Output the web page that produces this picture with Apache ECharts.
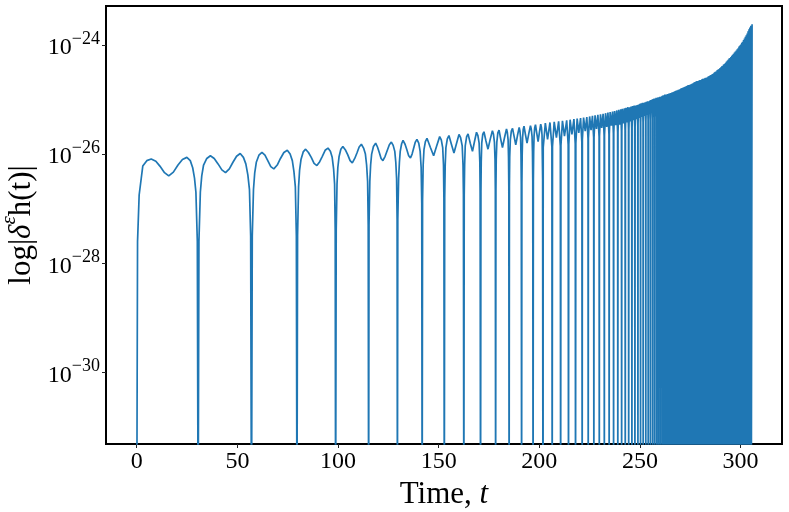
<!DOCTYPE html>
<html><head><meta charset="utf-8">
<script src="https://cdn.jsdelivr.net/npm/echarts@6/dist/echarts.min.js"></script>
<style>html,body{margin:0;padding:0;background:#fff}#c{width:789px;height:512px}</style>
</head><body><div id="c"></div>
<script>
// log10 |delta h(t)|; -33 marks a zero crossing (below the visible range)
const earlyWave = [
[0,-33],[0.4,-27.6],[1.2,-26.75],[3.0,-26.22],[5.0,-26.12],[7.2,-26.09],[9.5,-26.13],[11.5,-26.22],[13.8,-26.34],[15.9,-26.40],[18.2,-26.33],[20.5,-26.20],[22.7,-26.10],[24.9,-26.06],[26.6,-26.12],[27.8,-26.25],[28.7,-26.44],[29.4,-26.70],[30.1,-27.6],[30.5,-33],
[30.9,-27.6],[31.6,-26.7],[32.3,-26.4],[33.2,-26.2],[34.8,-26.08],[36.6,-26.03],[38.5,-26.08],[40.4,-26.18],[42.3,-26.29],[44.1,-26.34],[46.0,-26.27],[47.8,-26.15],[49.6,-26.04],[51.4,-25.99],[53.0,-26.06],[54.2,-26.18],[55.2,-26.38],[56.0,-26.65],[56.6,-27.5],[57.0,-33],
[57.4,-27.5],[58.0,-26.65],[58.6,-26.35],[59.4,-26.15],[60.7,-26.02],[62.2,-25.97],[63.7,-26.02],[65.1,-26.12],[66.6,-26.23],[68.1,-26.27],[69.8,-26.20],[71.4,-26.08],[73.1,-25.97],[74.8,-25.93],[76.2,-26.00],[77.3,-26.12],[78.1,-26.32],[78.8,-26.6],[79.3,-27.5],[79.6,-33],
[79.9,-27.5],[80.4,-26.6],[80.9,-26.3],[81.6,-26.1],[82.7,-25.96],[83.9,-25.91],[85.3,-25.97],[86.7,-26.06],[88.1,-26.17],[89.5,-26.21],[90.9,-26.14],[92.2,-26.04],[93.6,-25.93],[95.0,-25.89],[96.2,-25.95],[97.1,-26.06],[97.8,-26.27],[98.3,-26.55],[98.6,-27.4],[98.8,-33],
[99.1,-27.4],[99.5,-26.55],[99.9,-26.25],[100.5,-26.05],[101.4,-25.91],[102.4,-25.86],[103.6,-25.92],[104.8,-26.01],[106.0,-26.12],[107.1,-26.16],[108.3,-26.08],[109.4,-25.98],[110.5,-25.87],[111.6,-25.82],[112.7,-25.89],[113.6,-26.0],[114.2,-26.2],[114.7,-26.5],[115.0,-27.3],[115.2,-33],
[115.4,-27.3],[115.8,-26.5],[116.2,-26.2],[116.7,-26.0],[117.6,-25.86],[118.7,-25.80],[119.6,-25.87],[120.5,-25.97],[121.4,-26.08],[122.3,-26.12],[123.4,-26.04],[124.4,-25.94],[125.5,-25.83],[126.5,-25.78],[127.4,-25.84],[128.2,-25.95],[128.7,-26.15],[129.1,-26.45],[129.35,-27.2],[129.5,-33],
[129.7,-27.2],[130.1,-26.45],[130.5,-26.15],[130.9,-25.95],[131.6,-25.81],[132.3,-25.75],[133.3,-25.82],[134.2,-25.92],[135.1,-26.03],[136.0,-26.07],[136.8,-26.00],[137.6,-25.89],[138.4,-25.78],[139.2,-25.73],[140.1,-25.80],[140.8,-25.95],[141.3,-26.25],[141.6,-26.9],[141.8,-33],
[142.0,-26.85],[142.3,-26.2],[142.7,-25.92],[143.4,-25.77],[144.2,-25.71],[145.9,-25.88],[147.5,-26.03],[149.0,-25.85],[150.5,-25.68],[151.3,-25.74],[152.0,-25.88],[152.4,-26.2],[152.6,-26.8],[152.8,-33],
[153.0,-26.8],[153.25,-26.2],[153.6,-25.88],[154.3,-25.72],[155.1,-25.66],[156.4,-25.83],[157.6,-25.98],[158.9,-25.80],[160.1,-25.64],[160.9,-25.70],[161.7,-25.85],[162.1,-26.2],[162.3,-26.75],[162.5,-33],
[162.7,-26.75],[162.9,-26.2],[163.2,-25.85],[163.9,-25.68],[164.6,-25.63],[165.7,-25.80],[166.8,-25.95],[167.8,-25.77],[168.8,-25.60],[169.5,-25.66],[170.1,-25.8],[170.45,-26.15],[170.6,-26.7],[170.8,-33],
[171.0,-26.7],[171.15,-26.15],[171.4,-25.8],[171.9,-25.64],[172.5,-25.59],[173.5,-25.76],[174.5,-25.91],[175.6,-25.73],[176.7,-25.57],[177.2,-25.63],[177.7,-25.78],[178.0,-26.1],[178.15,-26.65],[178.3,-33],
[178.45,-26.65],[178.6,-26.1],[178.9,-25.78],[179.4,-25.61],[180.0,-25.56],[180.85,-25.73],[181.7,-25.88],[182.7,-25.70],[183.7,-25.54],[184.1,-25.60],[184.5,-25.74],[184.7,-26.05],[184.85,-26.6],[185.0,-33],
[185.15,-26.6],[185.3,-26.05],[185.6,-25.74],[186.1,-25.58],[186.7,-25.53],[187.5,-25.68],[188.3,-25.83],[189.15,-25.66],[190.0,-25.51],[190.35,-25.57],[190.7,-25.7],[190.9,-26.0],[191.05,-26.55],[191.2,-33],
[191.35,-26.55],[191.5,-26.0],[191.7,-25.7],[192.0,-25.55],[192.4,-25.49],[193.15,-25.65],[193.9,-25.80],[194.75,-25.63],[195.6,-25.48],[196.0,-25.54],[196.4,-25.68],[196.6,-25.95],[196.75,-26.5],[196.9,-33],
[197.05,-26.5],[197.2,-25.95],[197.4,-25.67],[197.7,-25.52],[198.1,-25.46],[198.75,-25.62],[199.4,-25.77],[200.05,-25.60],[200.7,-25.45],[201.05,-25.51],[201.35,-25.65],[201.65,-26.45],[201.8,-33]
];
const lateWave = [
[201.8,-33],
[201.95,-25.88],[203.0,-25.43],[204.1,-25.73],[205.3,-25.42],[206.25,-25.87],[206.4,-33],
[206.55,-25.86],[207.4,-25.41],[208.5,-25.70],[209.6,-25.40],[210.45,-25.85],[210.6,-33],
[210.75,-25.84],[211.5,-25.39],[212.5,-25.67],[213.6,-25.38],[214.35,-25.83],[214.5,-33],
[214.65,-25.82],[215.3,-25.37],[216.2,-25.64],[217.2,-25.36],[217.85,-25.81],[218.0,-33],
[218.15,-25.80],[218.8,-25.35],[219.6,-25.61],[220.5,-25.34],[221.15,-25.79],[221.3,-33],
[221.4,-25.73],[222.0,-25.33],[222.8,-25.58],[223.6,-25.32],[224.2,-25.72],[224.3,-33],
[224.4,-25.71],[225.0,-25.31],[225.7,-25.56],[226.4,-25.30],[227.0,-25.70],[227.1,-33],
[227.2,-25.69],[227.7,-25.29],[228.4,-25.54],[229.1,-25.28],[229.7,-25.68],[229.8,-33],
[229.9,-25.67],[230.4,-25.27],[231.0,-25.52],[231.7,-25.26],[232.2,-25.66],[232.3,-33],
[232.4,-25.65],[232.9,-25.25],[233.5,-25.50],[234.1,-25.24],[234.6,-25.64],[234.7,-33],
[234.8,-25.63],[235.2,-25.23],[235.8,-25.48],[236.4,-25.22],[236.8,-25.62],[236.9,-33],
[237.0,-25.61],[237.4,-25.21],[237.9,-25.47],[238.5,-25.20],[238.9,-25.60],[239.0,-33],
[239.1,-25.59],[239.45,-25.19],[239.95,-25.46],[240.45,-25.18],[240.8,-25.58],[240.9,-33],
[241.0,-25.57],[241.3,-25.17],[241.8,-25.44],[242.3,-25.16],[242.6,-25.56],[242.7,-33],
[242.8,-25.55],[243.1,-25.15],[243.55,-25.42],[244.0,-25.14],[244.3,-25.54],[244.4,-33],
[244.5,-25.54],[244.8,-25.14],[245.2,-25.40],[245.6,-25.13],[245.9,-25.53],[246.0,-33],
[246.1,-25.52],[246.35,-25.12],[246.75,-25.38],[247.15,-25.11],[247.4,-25.51],[247.5,-33],
[247.6,-25.51],[247.85,-25.11],[248.25,-25.36],[248.65,-25.10],[248.9,-25.50],[249.0,-33],
[249.06,-25.44],[249.3,-25.09],[249.65,-25.34],[250.0,-25.08],[250.24,-25.43],[250.3,-33],
[250.36,-25.42],[250.6,-25.07],[250.95,-25.32],[251.3,-25.06],[251.54,-25.41],[251.6,-33],
[251.66,-25.41],[251.9,-25.06],[252.25,-25.30],[252.6,-25.05],[252.84,-25.40],[252.9,-33],
[252.96,-25.39],[253.2,-25.04],[253.5,-25.28],[253.8,-25.03],[254.04,-25.38],[254.1,-33],
[254.16,-25.38],[254.35,-25.03],[254.65,-25.26],[254.95,-25.02],[255.14,-25.37],[255.2,-33],
[255.26,-25.36],[255.45,-25.01],[255.75,-25.24],[256.05,-25.00],[256.24,-25.35],[256.3,-33],
[256.36,-25.34],[256.55,-24.99],[256.8,-25.22],[257.05,-24.98],[257.24,-25.33],[257.3,-33],
[257.36,-25.33],[257.55,-24.98],[257.8,-25.20],[258.05,-24.97],[258.24,-25.32],[258.3,-33],
[258.36,-25.32],[258.5,-24.97],[258.75,-25.18],[259.0,-24.96],[259.14,-25.31],[259.2,-33],
[259.26,-25.31],[259.4,-24.96],[259.65,-25.16],[259.9,-24.95],[260.04,-25.30],[260.1,-33],
[260.16,-25.30],[260.3,-24.95],[260.55,-25.14],[260.8,-24.94],[260.94,-25.29],[261.0,-33],
[261.06,-25.28],[261.2,-24.93],[261.4,-25.12],[261.6,-24.92],[261.74,-25.27],[261.8,-33],
[261.86,-25.27],[262.0,-24.92],[262.2,-25.10],[262.4,-24.91],[262.54,-25.26],[262.6,-33]
];
const chirpTail = [
[262.98,-24.91],[263.35,-33],[263.72,-24.90],[264.1,-33],[264.45,-24.89],[264.8,-33],
[265.15,-24.88],[265.5,-33],[265.85,-24.87],[266.2,-33],[266.52,-24.86],[266.85,-33],
[267.18,-24.85],[267.5,-33],[267.82,-24.84],[268.15,-33],[268.48,-24.83],[268.8,-33],
[269.1,-24.82],[269.4,-33],[269.7,-24.81],[270.0,-33],[270.3,-24.80],[270.6,-33],
[270.9,-24.79],[271.2,-33],[271.5,-24.78],[271.8,-33],[272.08,-24.77],[272.35,-33],
[272.62,-24.76],[272.9,-33],[273.18,-24.75],[273.45,-33],[273.72,-24.74],[274.0,-33],
[274.28,-24.735],[274.55,-33],[274.82,-24.73],[275.1,-33],[275.35,-24.72],[275.6,-33],
[275.85,-24.71],[276.1,-33],[276.35,-24.70],[276.6,-33],[276.85,-24.69],[277.1,-33],
[277.35,-24.68],[277.6,-33],[277.85,-24.67],[278.1,-33],[278.35,-24.66],[278.6,-33],
[278.85,-24.66],[279.1,-33],[279.35,-24.65],[279.6,-33],[279.85,-24.64],[280.1,-33],
[280.32,-24.64],[280.55,-33],[280.78,-24.63],[281.0,-33],[281.22,-24.62],[281.45,-33],
[281.68,-24.62],[281.9,-33],[282.12,-24.61],[282.35,-33],[282.58,-24.60],[282.8,-33],
[283.02,-24.60],[283.25,-33],[283.48,-24.59],[283.7,-33],[283.92,-24.58],[284.15,-33],
[284.38,-24.57],[284.6,-33],[284.82,-24.56],[285.05,-33],[285.28,-24.55],[285.5,-33],
[285.72,-24.54],[285.95,-33],[286.18,-24.53],[286.4,-33],[286.62,-24.52],[286.85,-33],
[287.08,-24.50],[287.3,-33],[287.52,-24.49],[287.75,-33],[287.98,-24.48],[288.2,-33],
[288.42,-24.46],[288.65,-33],[288.88,-24.45],[289.1,-33],[289.32,-24.44],[289.55,-33],
[289.78,-24.42],[290.0,-33],[290.22,-24.41],[290.45,-33],[290.68,-24.39],[290.9,-33],
[291.12,-24.38],[291.35,-33],[291.58,-24.36],[291.8,-33],[292.02,-24.35],[292.25,-33],
[292.48,-24.33],[292.7,-33],[292.92,-24.31],[293.15,-33],[293.38,-24.29],[293.6,-33],
[293.82,-24.27],[294.05,-33],[294.28,-24.25],[294.5,-33],[294.72,-24.24],[294.95,-33],
[295.18,-24.22],[295.4,-33],[295.62,-24.20],[295.85,-33],[296.08,-24.18],[296.3,-33],
[296.52,-24.16],[296.75,-33],[296.98,-24.14],[297.2,-33],[297.42,-24.12],[297.65,-33],
[297.88,-24.10],[298.1,-33],[298.32,-24.08],[298.55,-33],[298.78,-24.06],[299.0,-33],
[299.22,-24.03],[299.45,-33],[299.68,-24.01],[299.9,-33],[300.12,-23.99],[300.35,-33],
[300.58,-23.96],[300.8,-33],[301.02,-23.94],[301.25,-33],[301.48,-23.91],[301.7,-33],
[301.92,-23.88],[302.15,-33],[302.38,-23.85],[302.6,-33],[302.82,-23.82],[303.05,-33],
[303.28,-23.79],[303.5,-33],[303.72,-23.75],[303.95,-33],[304.18,-23.71],[304.4,-33],
[304.62,-23.68],[304.85,-33],[305.08,-23.65],[305.3,-33],[305.7,-23.62]
];
const xTickValues = [0, 50, 100, 150, 200, 250, 300];
const yTickExponents = [-30, -28, -26, -24];

const FONT = 'Liberation Serif';
const chart = echarts.init(document.getElementById('c'), null, {renderer: 'canvas'});
const lineColor = '#1f77b4';
chart.setOption({
  animation: false,
  backgroundColor: '#fff',
  grid: {left: 106, right: 7, top: 6, bottom: 68, show: true, borderColor: '#000', borderWidth: 2,
         backgroundColor: 'transparent', containLabel: false, outerBoundsMode: 'none'},
  xAxis: {
    type: 'value', min: -15.27, max: 320.57,
    axisLine: {show: false, onZero: false}, splitLine: {show: false},
    axisTick: {show: true, customValues: xTickValues, length: 4, lineStyle: {color: '#222', width: 1}},
    axisLabel: {customValues: xTickValues, fontFamily: FONT, fontSize: 24, color: '#000', margin: 6},
    name: '{r|Time, }{i|t}', nameLocation: 'middle', nameGap: 29,
    nameTextStyle: {rich: {
      r: {fontFamily: FONT, fontSize: 31, color: '#000'},
      i: {fontFamily: FONT, fontSize: 31, fontStyle: 'italic', color: '#000'}
    }}
  },
  yAxis: {
    type: 'value', min: -31.313, max: -23.286,
    axisLine: {show: false, onZero: false}, splitLine: {show: false},
    axisTick: {show: true, customValues: yTickExponents, length: 4, lineStyle: {color: '#222', width: 1}},
    axisLabel: {
      customValues: yTickExponents, margin: 6,
      formatter: v => '{b|10}{s|\u2212' + Math.abs(Math.round(v)) + '}',
      rich: {
        b: {fontFamily: FONT, fontSize: 24, color: '#000', lineHeight: 30, verticalAlign: 'bottom'},
        s: {fontFamily: FONT, fontSize: 18, color: '#000', lineHeight: 17, verticalAlign: 'top'}
      }
    },
    name: '{r|log|}{i|\u03b4}{s|\u03b5}{r|h(t)|}', nameLocation: 'middle', nameGap: 60,
    nameTextStyle: {rich: {
      r: {fontFamily: FONT, fontSize: 31, color: '#000', lineHeight: 38, verticalAlign: 'bottom'},
      i: {fontFamily: FONT, fontSize: 31, fontStyle: 'italic', color: '#000', lineHeight: 38, verticalAlign: 'bottom'},
      s: {fontFamily: FONT, fontSize: 21, fontStyle: 'italic', color: '#000', lineHeight: 21, verticalAlign: 'top'}
    }}
  },
  series: [
    {type: 'line', data: earlyWave, showSymbol: false, smooth: false, clip: true,
     lineStyle: {color: lineColor, width: 1.7}, silent: true},
    {type: 'line', data: lateWave.concat(chirpTail), showSymbol: false, smooth: false, clip: true,
     lineStyle: {color: lineColor, width: 1.7}, silent: true}
  ]
});
</script></body></html>
